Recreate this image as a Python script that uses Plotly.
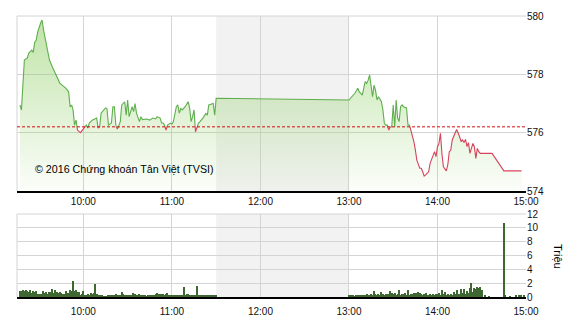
import plotly.graph_objects as go
import pandas as pd

DAY = "2016-01-01 "

# ---- price line (VN-Index intraday) ----
price_times = [
    "09:17", "09:18", "09:20", "09:22", "09:23", "09:25", "09:26", "09:27", "09:28", "09:29",
    "09:31", "09:32", "09:33", "09:35", "09:37", "09:39", "09:42", "09:44", "09:48", "09:50",
    "09:51", "09:52", "09:53", "09:54", "09:55", "09:56", "09:58", "09:59", "10:01", "10:02",
    "10:03", "10:04", "10:06", "10:09", "10:10", "10:11", "10:12", "10:15", "10:16", "10:17",
    "10:19", "10:20", "10:21", "10:22", "10:23", "10:25", "10:26", "10:28", "10:29", "10:30",
    "10:31", "10:33", "10:34", "10:35", "10:36", "10:37", "10:38", "10:39", "10:40", "10:43",
    "10:45", "10:47", "10:49", "10:50", "10:52", "10:53", "10:54", "10:55", "10:56", "10:57",
    "10:59", "11:00", "11:01", "11:03", "11:04", "11:05", "11:06", "11:07", "11:09", "11:11",
    "11:12", "11:13", "11:14", "11:15", "11:16", "11:18", "11:19", "11:21", "11:23", "11:24",
    "11:25", "11:28", "11:29", "11:30",
    "13:00", "13:04", "13:06", "13:07", "13:08", "13:09", "13:10", "13:11", "13:12", "13:13",
    "13:14", "13:15", "13:16", "13:17", "13:18", "13:19", "13:20", "13:21", "13:22", "13:23",
    "13:24", "13:25", "13:26", "13:27", "13:28", "13:29", "13:30", "13:31", "13:32", "13:33",
    "13:34", "13:35", "13:36", "13:37", "13:39", "13:40", "13:41", "13:42", "13:43", "13:44",
    "13:45", "13:46", "13:48", "13:49", "13:50", "13:51", "13:52", "13:54", "13:55", "13:57",
    "13:58", "13:59", "14:00", "14:01", "14:02", "14:03", "14:04", "14:06", "14:07", "14:08",
    "14:09", "14:10", "14:11", "14:12", "14:13", "14:15", "14:16", "14:17", "14:18", "14:19",
    "14:20", "14:21", "14:22", "14:24", "14:25", "14:26", "14:27", "14:28", "14:29", "14:37",
    "14:45", "14:57",
]
price_values = [
    576.95, 576.78, 578.49, 578.56, 578.73, 578.83, 578.75, 579.10, 579.17, 579.45,
    579.76, 579.86, 579.52, 578.94, 578.49, 578.25, 577.90, 577.70, 577.53, 577.40,
    576.88, 576.95, 576.78, 576.26, 576.43, 576.09, 576.00, 576.06, 576.20, 576.26,
    576.16, 576.33, 576.43, 576.50, 576.16, 576.20, 576.67, 576.85, 576.82, 576.26,
    576.33, 576.89, 576.89, 576.26, 576.12, 576.38, 576.95, 577.06, 576.60, 577.12,
    576.55, 576.89, 576.72, 577.00, 576.67, 576.55, 576.38, 576.55, 576.45, 576.47,
    576.43, 576.50, 576.47, 576.55, 576.50, 576.33, 576.33, 576.26, 576.09, 576.26,
    576.33, 576.30, 576.38, 576.89, 576.95, 576.67, 576.83, 576.78, 576.89, 577.06,
    576.85, 576.38, 576.55, 576.78, 576.03, 576.33, 576.38, 576.50, 576.66, 576.60,
    576.95, 577.00, 576.60, 577.18,
    577.12, 577.35, 577.52, 577.40, 577.35, 577.29, 577.52, 577.75, 577.69, 577.80,
    577.98, 577.63, 577.23, 577.63, 577.46, 577.12, 577.23, 577.15, 577.06, 576.78,
    576.32, 576.26, 576.26, 576.09, 576.20, 576.20, 576.95, 576.20, 577.12, 576.50,
    576.38, 576.89, 576.95, 576.89, 576.85, 576.26, 576.26, 576.09, 575.86, 575.69,
    575.41, 575.06, 574.78, 574.78, 574.66, 574.51, 574.55, 574.66, 574.95, 575.23,
    575.35, 575.18, 575.52, 575.63, 575.98, 575.29, 574.83, 574.69, 574.90, 575.35,
    575.40, 575.75, 575.86, 575.98, 576.11, 575.86, 575.69, 575.75, 575.66, 575.77,
    575.52, 575.66, 575.29, 575.63, 575.52, 575.12, 575.46, 575.35, 575.29, 575.29,
    574.69, 574.69,
]
ref_price = 576.2

# ---- volume (million shares), one bar per minute ----
vol_am_start = "09:17"
vol_am = [
    0.9, 0.85, 0.95, 0.8, 0.95, 0.9, 0.7, 0.95, 0.6, 0.85,
    0.7, 0.8, 0.45, 0.4, 0.45, 0.4, 0.85, 0.65, 0.75, 0.4,
    0.7, 0.75, 1.1, 0.65, 1.0, 0.75, 0.6, 0.75, 0.55, 0.45,
    0.4, 0.85, 0.55, 0.6, 1.0, 0.8, 2.25, 0.9, 1.0, 0.75,
    0.75, 0.2, 0.5, 0.85, 0.2, 0.3, 0.4, 0.3, 0.55, 0.45,
    0.6, 1.9, 0.4, 0.3, 0.25, 0.2, 0.2, 0.1, 0.1, 0.1,
    0.3, 0.2, 0.35, 0.2, 0.3, 0.4, 0.3, 0.35, 0.2, 0.75,
    0.45, 0.3, 0.3, 0.3, 0.35, 0.3, 0.2, 0.65, 0.4, 0.3,
    0.3, 0.45, 0.3, 0.3, 0.2, 0.3, 0.1, 0.2, 0.2, 0.2,
    0.2, 0.2, 0.45, 0.65, 0.5, 0.2, 0.45, 0.4, 0.2, 0.5,
    0.55, 0.2, 0.2, 0.25, 0.2, 0.3, 0.25, 0.3, 0.2, 0.3,
    0.3, 1.45, 0.3, 0.4, 0.4, 0.35, 0.35, 0.2, 0.3, 0.25,
    1.6, 0.3, 0.2, 0.3, 0.2, 0.2, 0.3, 0.2, 0.25, 0.2,
    0.3, 0.2, 0.3, 0.15,
]
vol_pm_start = "13:00"
vol_pm = [
    0.3, 0.15, 0.15, 0.2, 0.1, 0.25, 0.2, 0.2, 0.2, 0.15,
    0.3, 0.3, 0.4, 0.3, 0.2, 0.4, 0.3, 0.9, 0.4, 0.3,
    0.5, 0.3, 0.7, 0.4, 0.35, 0.5, 0.45, 0.5, 0.9, 0.55,
    0.4, 0.6, 0.35, 0.5, 0.95, 0.3, 0.45, 0.4, 0.6, 0.35,
    1.05, 0.3, 0.4, 0.5, 0.6, 0.65, 0.55, 0.7, 0.6, 0.5,
    0.3, 0.4, 0.55, 0.3, 0.35, 0.4, 0.25, 0.5, 0.3, 0.45,
    0.4, 0.6, 0.3, 0.95, 0.5, 0.7, 0.3, 0.4, 0.3, 0.5,
    0.3, 0.75, 0.4, 1.0, 0.5, 0.45, 1.2, 0.6, 1.1, 0.5,
    0.9, 0.6, 1.25, 2.05, 0.7, 1.3, 1.15, 1.45, 1.3, 1.5,
    1.0,
]
vol_late_times = ["14:32", "14:35", "14:45", "14:46", "14:49", "14:53", "14:55", "14:57", "14:59"]
vol_late = [0.15, 0.1, 10.75, 0.15, 0.1, 0.2, 0.3, 0.15, 0.2]

x_ticks = ["10:00", "11:00", "12:00", "13:00", "14:00", "15:00"]
break_start, break_end = "11:30", "13:00"
x_start, x_end = "09:15", "15:00"

GREEN = "#5fae4e"
RED = "#d5445c"
BAR = "#3d6832"
GRID = "#d4d4d4"
FONT = "Liberation Sans, Arial, sans-serif"

# ---- build series ----
pt = pd.to_datetime([DAY + s for s in price_times])
pv = list(price_values)

runs = []
cur = None
for i in range(len(pv)):
    col = "g" if pv[i] >= ref_price else "r"
    if i > 0 and col != cur:
        x0, y0, x1, y1 = pt[i - 1], pv[i - 1], pt[i], pv[i]
        frac = (ref_price - y0) / (y1 - y0)
        xc = x0 + (x1 - x0) * frac
        runs[-1][1].append(xc)
        runs[-1][2].append(ref_price)
        runs.append((col, [xc], [ref_price]))
    elif i == 0:
        runs.append((col, [], []))
    runs[-1][1].append(pt[i])
    runs[-1][2].append(pv[i])
    cur = col

def gather(c):
    xs, ys = [], []
    for col, rx_, ry_ in runs:
        if col == c:
            xs += rx_ + [None]
            ys += ry_ + [None]
    return xs, ys

gx, gy = gather("g")
rx, ry = gather("r")

am_t = pd.date_range(DAY + vol_am_start, periods=len(vol_am), freq="min")
pm_t = pd.date_range(DAY + vol_pm_start, periods=len(vol_pm), freq="min")
late_t = pd.to_datetime([DAY + s for s in vol_late_times])
vol_t = list(am_t) + list(pm_t) + list(late_t)
vol_v = vol_am + vol_pm + vol_late

fig = go.Figure()

fig.add_trace(go.Scatter(
    x=pt, y=pv, mode="lines", line=dict(width=0), fill="tozeroy",
    fillgradient=dict(type="vertical", start=574, stop=580,
                      colorscale=[[0, "rgba(150,210,110,0.04)"], [1, "rgba(150,210,110,0.62)"]]),
    hoverinfo="skip", showlegend=False, xaxis="x", yaxis="y"))
fig.add_trace(go.Scatter(x=gx, y=gy, mode="lines", line=dict(color=GREEN, width=1.1),
                         showlegend=False, connectgaps=False, xaxis="x", yaxis="y"))
fig.add_trace(go.Scatter(x=rx, y=ry, mode="lines", line=dict(color=RED, width=1.1),
                         showlegend=False, connectgaps=False, xaxis="x", yaxis="y"))
fig.add_trace(go.Bar(x=vol_t, y=vol_v, marker=dict(color=BAR, line=dict(width=0)),
                     width=60000 * 0.85, showlegend=False, xaxis="x2", yaxis="y2"))

xr = [DAY + x_start, DAY + x_end]
xcommon = dict(type="date", range=xr, tickvals=[DAY + s for s in x_ticks], ticktext=x_ticks,
               showgrid=True, gridcolor=GRID, gridwidth=1, showline=True, linecolor="#000",
               linewidth=1.5, ticks="", zeroline=False, automargin=False,
               tickfont=dict(family=FONT, size=10, color="#111"))
ycommon = dict(side="right", showgrid=True, gridcolor=GRID, zeroline=False, ticks="",
               automargin=False, tickfont=dict(family=FONT, size=10, color="#111"))
fig.update_layout(
    width=570, height=320, margin=dict(l=17, r=44, t=0, b=0, autoexpand=False),
    paper_bgcolor="white", plot_bgcolor="white", bargap=0,
    xaxis=dict(domain=[0, 1], anchor="y", **xcommon),
    xaxis2=dict(domain=[0, 1], anchor="y2", matches="x", ticklabelstandoff=4, **xcommon),
    yaxis=dict(domain=[129 / 320, 304 / 320], range=[574, 580], tickvals=[574, 576, 578, 580],
               anchor="x", **ycommon),
    yaxis2=dict(domain=[23 / 320, 106 / 320], range=[0, 12], tickvals=[0, 2, 4, 6, 8, 10, 12],
                anchor="x2", **ycommon),
)

for yref in ["y", "y2"]:
    xa = "x" if yref == "y" else "x2"
    fig.add_shape(type="rect", xref=xa, yref=yref + " domain", x0=DAY + break_start, x1=DAY + break_end,
                  y0=0, y1=1, fillcolor="#f2f2f2", line=dict(width=0), layer="below")
    fig.add_shape(type="line", xref=xa + " domain", yref=yref + " domain", x0=0, x1=0, y0=0, y1=1,
                  line=dict(color=GRID, width=1), layer="below")
    fig.add_shape(type="line", xref=xa + " domain", yref=yref + " domain", x0=0, x1=1, y0=1, y1=1,
                  line=dict(color=GRID, width=1), layer="below")

fig.add_shape(type="line", xref="x domain", yref="y", x0=0, x1=1, y0=ref_price, y1=ref_price,
              line=dict(color="#d01010", width=1, dash="3px,2px"))

fig.add_annotation(text="© 2016 Chứng khoán Tân Việt (TVSI)", xref="paper", yref="paper",
                   x=16 / 509, y=(320 - 169) / 320, xanchor="left", yanchor="middle", showarrow=False,
                   font=dict(family=FONT, size=10.7, color="#000"))
fig.add_annotation(text="Triệu", xref="paper", yref="paper", x=(558 - 17) / 509, y=(320 - 256) / 320,
                   xanchor="center", yanchor="middle", textangle=90, showarrow=False,
                   font=dict(family=FONT, size=11, color="#000"))

fig.write_html("out.html")
